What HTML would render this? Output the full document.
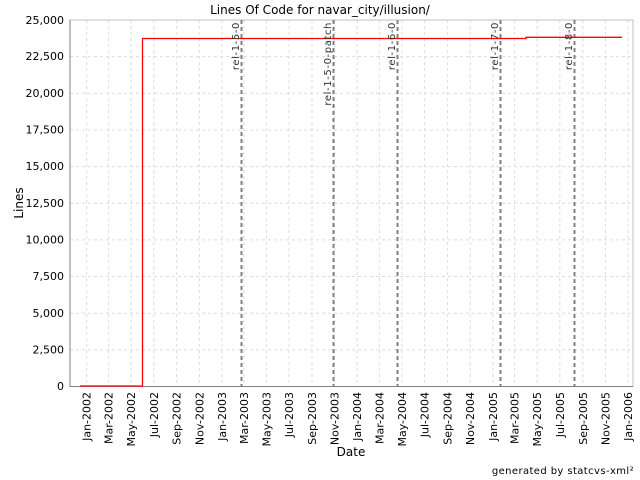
<!DOCTYPE html>
<html><head><meta charset="utf-8"><style>body{margin:0;background:#fff}svg{display:block}</style></head><body>
<svg width="640" height="480" xmlns="http://www.w3.org/2000/svg" font-family="DejaVu Sans, Liberation Sans, sans-serif">
<rect width="640" height="480" fill="#fff"/>
<text x="320" y="14" font-size="12" text-anchor="middle" fill="#000">Lines Of Code for navar_city/illusion/</text>
<g stroke="#dcdcdc" stroke-width="1" stroke-dasharray="3,3">
<line x1="70" x2="633" y1="349.85" y2="349.85"/><line x1="70" x2="633" y1="313.2" y2="313.2"/><line x1="70" x2="633" y1="276.55" y2="276.55"/><line x1="70" x2="633" y1="239.9" y2="239.9"/><line x1="70" x2="633" y1="203.25" y2="203.25"/><line x1="70" x2="633" y1="166.6" y2="166.6"/><line x1="70" x2="633" y1="129.95" y2="129.95"/><line x1="70" x2="633" y1="93.3" y2="93.3"/><line x1="70" x2="633" y1="56.65" y2="56.65"/>
<line y1="20" y2="386" x1="86.7" x2="86.7"/><line y1="20" y2="386" x1="108.6" x2="108.6"/><line y1="20" y2="386" x1="131.2" x2="131.2"/><line y1="20" y2="386" x1="153.8" x2="153.8"/><line y1="20" y2="386" x1="176.7" x2="176.7"/><line y1="20" y2="386" x1="199.3" x2="199.3"/><line y1="20" y2="386" x1="221.9" x2="221.9"/><line y1="20" y2="386" x1="243.8" x2="243.8"/><line y1="20" y2="386" x1="266.4" x2="266.4"/><line y1="20" y2="386" x1="289" x2="289"/><line y1="20" y2="386" x1="312" x2="312"/><line y1="20" y2="386" x1="334.6" x2="334.6"/><line y1="20" y2="386" x1="357.2" x2="357.2"/><line y1="20" y2="386" x1="379.4" x2="379.4"/><line y1="20" y2="386" x1="402" x2="402"/><line y1="20" y2="386" x1="424.6" x2="424.6"/><line y1="20" y2="386" x1="447.6" x2="447.6"/><line y1="20" y2="386" x1="470.2" x2="470.2"/><line y1="20" y2="386" x1="492.8" x2="492.8"/><line y1="20" y2="386" x1="514.6" x2="514.6"/><line y1="20" y2="386" x1="537.2" x2="537.2"/><line y1="20" y2="386" x1="559.8" x2="559.8"/><line y1="20" y2="386" x1="582.8" x2="582.8"/><line y1="20" y2="386" x1="605.4" x2="605.4"/><line y1="20" y2="386" x1="628" x2="628"/>
</g>
<rect x="70" y="20" width="563" height="366.5" fill="none" stroke="#c0c0c0"/>
<line x1="70" y1="20" x2="70" y2="387" stroke="#808080"/>
<line x1="70" y1="386.5" x2="633" y2="386.5" stroke="#808080"/>
<g stroke="#808080" stroke-width="2" stroke-dasharray="4,3">
<line x1="241.5" x2="241.5" y1="20" y2="386"/><line x1="333.5" x2="333.5" y1="20" y2="386"/><line x1="397.5" x2="397.5" y1="20" y2="386"/><line x1="500.5" x2="500.5" y1="20" y2="386"/><line x1="574.5" x2="574.5" y1="20" y2="386"/>
</g>
<polyline fill="none" stroke="#ff0000" stroke-width="1.3" points="80,386 142.5,386 142.5,38.5 526,38.5 526,37.3 622,37.3"/>
<g font-size="10" fill="#333" text-anchor="end" letter-spacing="0.6">
<text transform="translate(239,22) rotate(-90)">rel-1-5-0</text>
<text transform="translate(331,22) rotate(-90)">rel-1-5-0-patch</text>
<text transform="translate(395,22) rotate(-90)">rel-1-6-0</text>
<text transform="translate(498,22) rotate(-90)">rel-1-7-0</text>
<text transform="translate(572,22) rotate(-90)">rel-1-8-0</text>
</g>
<g font-size="11" fill="#000" text-anchor="end">
<text x="64" y="390">0</text><text x="64" y="353.5">2,500</text><text x="64" y="317">5,000</text><text x="64" y="280">7,500</text><text x="64" y="243.5">10,000</text><text x="64" y="207">12,500</text><text x="64" y="170">15,000</text><text x="64" y="133.5">17,500</text><text x="64" y="97">20,000</text><text x="64" y="60">22,500</text><text x="64" y="24">25,000</text>
</g>
<g font-size="11" fill="#000" text-anchor="end">
<text transform="translate(90.7,392) rotate(-90)">Jan-2002</text><text transform="translate(112.6,392) rotate(-90)">Mar-2002</text><text transform="translate(135.2,392) rotate(-90)">May-2002</text><text transform="translate(157.8,392) rotate(-90)">Jul-2002</text><text transform="translate(180.7,392) rotate(-90)">Sep-2002</text><text transform="translate(203.3,392) rotate(-90)">Nov-2002</text><text transform="translate(225.9,392) rotate(-90)">Jan-2003</text><text transform="translate(247.8,392) rotate(-90)">Mar-2003</text><text transform="translate(270.4,392) rotate(-90)">May-2003</text><text transform="translate(293,392) rotate(-90)">Jul-2003</text><text transform="translate(316,392) rotate(-90)">Sep-2003</text><text transform="translate(338.6,392) rotate(-90)">Nov-2003</text><text transform="translate(361.2,392) rotate(-90)">Jan-2004</text><text transform="translate(383.4,392) rotate(-90)">Mar-2004</text><text transform="translate(406,392) rotate(-90)">May-2004</text><text transform="translate(428.6,392) rotate(-90)">Jul-2004</text><text transform="translate(451.6,392) rotate(-90)">Sep-2004</text><text transform="translate(474.2,392) rotate(-90)">Nov-2004</text><text transform="translate(496.8,392) rotate(-90)">Jan-2005</text><text transform="translate(518.6,392) rotate(-90)">Mar-2005</text><text transform="translate(541.2,392) rotate(-90)">May-2005</text><text transform="translate(563.8,392) rotate(-90)">Jul-2005</text><text transform="translate(586.8,392) rotate(-90)">Sep-2005</text><text transform="translate(609.4,392) rotate(-90)">Nov-2005</text><text transform="translate(632,392) rotate(-90)">Jan-2006</text>
</g>
<text x="351" y="456" font-size="12" text-anchor="middle">Date</text>
<text transform="translate(23,203) rotate(-90)" font-size="12" text-anchor="middle">Lines</text>
<text x="634" y="474" font-size="10" text-anchor="end" letter-spacing="0.4">generated by statcvs-xml²</text>
</svg>
</body></html>
